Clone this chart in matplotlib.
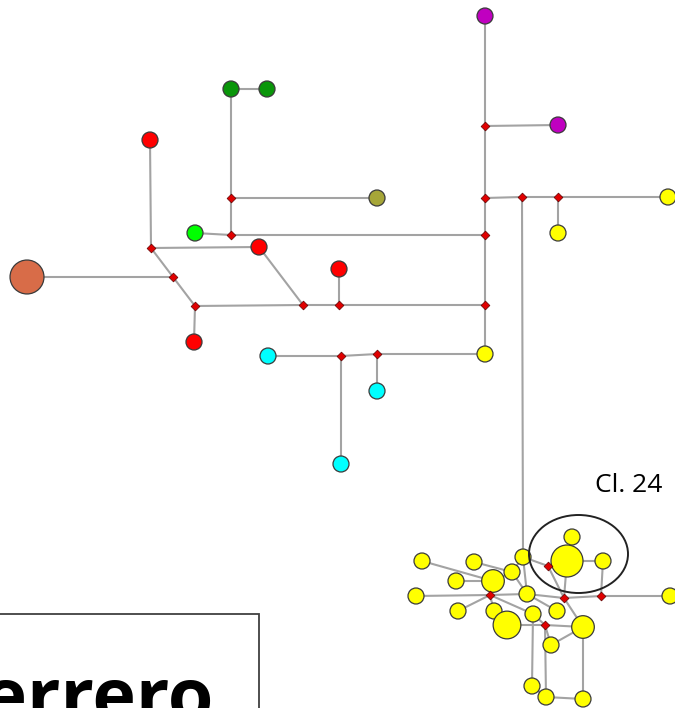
import numpy as np
import matplotlib.pyplot as plt
from matplotlib.patches import Circle, Ellipse, Rectangle

# haplotypes: name, x, y (layout), frequency, population colour
hap_names = ['p1', 'p2', 'y1', 'y2', 'y3', 'g1', 'g2', 'r1', 'ol', 'lg', 'r2',
             'or', 'r3', 'r4', 'c1', 'c2', 'c3',
             'A', 'B', 'C', 'D', 'E', 'F', 'G', 'H', 'I', 'J', 'K', 'L',
             'N', 'O', 'P', 'Q', 'R', 'S', 'T', 'U', 'V', 'W']
hap_x = [485, 558, 668, 558, 485, 231, 267, 150, 377, 195, 259,
         27, 339, 194, 268, 377, 341,
         422, 474, 523, 567, 572, 603, 456, 493, 512, 416, 527, 670,
         458, 494, 507, 533, 557, 583, 551, 532, 546, 583]
hap_y = [16, 125, 197, 233, 354, 89, 89, 140, 198, 233, 247,
         277, 269, 342, 356, 391, 464,
         561, 562, 557, 561, 537, 561, 581, 581, 572, 596, 594, 596,
         611, 611, 625, 614, 611, 627, 645, 686, 697, 699]
hap_freq = [1, 1, 1, 1, 1, 1, 1, 1, 1, 1, 1,
            4.5, 1, 1, 1, 1, 1,
            1, 1, 1, 4, 1, 1, 1, 2, 1, 1, 1, 1,
            1, 1, 3, 1, 1, 2, 1, 1, 1, 1]
hap_pop = ['pu', 'pu', 'ye', 'ye', 'ye', 'dg', 'dg', 're', 'ol', 'lg', 're',
           'orn', 're', 're', 'cy', 'cy', 'cy'] + ['ye'] * 22

# median vectors
med_names = ['m1', 'm2', 'm3', 'm4', 'm5', 'm6', 'm7', 'm8', 'm9', 'm10',
             'm11', 'm12', 'm13', 'm14', 'm15', 'Ma', 'Mb', 'Mc', 'Md', 'Me']
med_x = [485, 485, 522, 558, 485, 485, 231, 231, 151, 173,
         195, 303, 339, 341, 377, 548, 490, 564, 601, 545]
med_y = [126, 198, 197, 197, 235, 305, 198, 235, 248, 277,
         306, 305, 305, 356, 354, 566, 595, 598, 596, 625]

links = [('p1', 'm1'), ('m1', 'p2'), ('m1', 'm2'), ('m2', 'm3'), ('m3', 'm4'),
         ('m4', 'y1'), ('m4', 'y2'), ('m2', 'm5'), ('m5', 'm8'), ('m8', 'lg'),
         ('m8', 'm7'), ('m7', 'ol'), ('m7', 'g1'), ('g1', 'g2'), ('m5', 'm6'),
         ('m6', 'm13'), ('m13', 'r3'), ('m13', 'm12'), ('m12', 'r2'),
         ('m12', 'm11'), ('m11', 'r4'), ('m11', 'm10'), ('m10', 'or'),
         ('m10', 'm9'), ('m9', 'r1'), ('m9', 'r2'), ('m6', 'y3'), ('y3', 'm15'),
         ('m15', 'c2'), ('m15', 'm14'), ('m14', 'c1'), ('m14', 'c3'),
         ('m3', 'C'),
         ('A', 'H'), ('B', 'I'), ('G', 'H'), ('H', 'Mb'), ('H', 'I'), ('I', 'C'),
         ('C', 'Ma'), ('I', 'K'), ('Ma', 'D'), ('Ma', 'Mc'), ('D', 'Mc'),
         ('D', 'E'), ('D', 'F'), ('F', 'Md'), ('J', 'Mb'), ('Mb', 'K'),
         ('K', 'Mc'), ('Mc', 'Md'), ('Md', 'L'), ('Mb', 'N'), ('Mb', 'O'),
         ('Mb', 'Q'), ('K', 'R'), ('Q', 'Me'), ('P', 'Me'), ('Me', 'S'),
         ('Me', 'T'), ('T', 'S'), ('Mc', 'S'), ('Q', 'U'), ('Me', 'V'),
         ('S', 'W'), ('V', 'W'), ('U', 'V'), ('C', 'K')]

pop_colors = {'pu': '#c000c0', 'ye': '#ffff00', 'dg': '#0a960a', 're': '#ff0000',
              'ol': '#a6a638', 'lg': '#00ff00', 'orn': '#d86c48', 'cy': '#00ffff'}

pos = {}
for n, x, y in zip(hap_names, hap_x, hap_y):
    pos[n] = (x, y)
for n, x, y in zip(med_names, med_x, med_y):
    pos[n] = (x, y)

fig = plt.figure(figsize=(6.75, 7.08), dpi=100)
ax = fig.add_axes([0, 0, 1, 1])
ax.set_xlim(0, 675)
ax.set_ylim(708, 0)
ax.axis('off')

for a, b in links:
    ax.plot([pos[a][0], pos[b][0]], [pos[a][1], pos[b][1]],
            color='#a3a3a3', lw=1.5, zorder=1)

for x, y, f, p in zip(hap_x, hap_y, hap_freq, hap_pop):
    ax.add_patch(Circle((x, y), 8 * np.sqrt(f), facecolor=pop_colors[p],
                        edgecolor='#3a3a3a', lw=0.9, zorder=3))

ax.scatter(med_x, med_y, marker='D', s=20, color='#e00000',
           edgecolors='#600000', linewidths=0.5, zorder=4)

# cluster 24 outline
ax.add_patch(Ellipse((578.5, 554), 99, 78, fill=False, edgecolor='#222222',
                     lw=1.4, zorder=5))
ax.text(629, 485, 'Cl. 24', fontsize=19, family='Open Sans',
        ha='center', va='center', color='black')

# label box (cropped at the picture's edge, as in the source)
ax.add_patch(Rectangle((-5, 614), 264, 120, fill=False, edgecolor='#404040',
                       lw=1.3, zorder=5, clip_on=False))
ax.text(214, 722, 'Guerrero', fontsize=53, family='Open Sans',
        fontweight='bold', ha='right', va='baseline', color='black')

fig.savefig('out.png', dpi=100)
